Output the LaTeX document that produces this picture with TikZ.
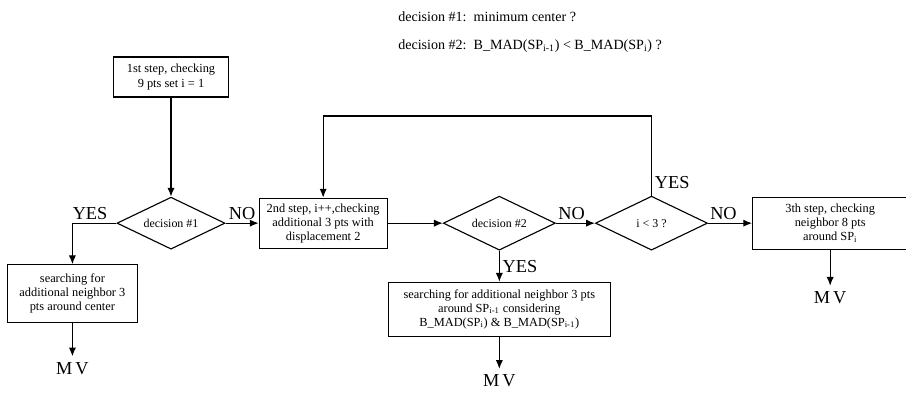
\documentclass[tikz,border=0pt]{standalone}
\usepackage{fontspec}
\setmainfont{Liberation Serif}
\usetikzlibrary{arrows.meta,positioning,shapes.geometric}

\begin{document}
\begin{tikzpicture}[x=0.025cm, y=-0.025cm,
  node distance=8mm and 9mm,
  box/.style={draw, align=center, inner sep=1pt, line width=0.8pt, font=\fontsize{8.8}{10}\selectfont},
  decision/.style={draw, diamond, aspect=2, inner sep=0pt, minimum width=28mm, minimum height=13.5mm, line width=0.8pt, font=\fontsize{8.5}{10}\selectfont},
  answer/.style={inner sep=2pt, font=\fontsize{13}{13}\selectfont},
  result/.style={inner sep=4pt, font=\fontsize{13}{13}\selectfont},
  note/.style={anchor=west, inner sep=0pt, font=\fontsize{10}{12}\selectfont},
  link/.style={-{Latex[length=2.2mm, width=1.8mm]}, line width=0.8pt}
]
\useasboundingbox (0,0) rectangle (906,394);
% legend
\node[note] (hdr1) at (398,17) {decision \#1:\ \ minimum center ?};
\node[note] (hdr2) at (398,46) {decision \#2:\ \ B\_MAD(SP\textsubscript{i-1}) < B\_MAD(SP\textsubscript{i}) ?};
% main row
\node[box, minimum width=28.75mm, minimum height=10mm] (step1) at (171,77) {1st step, checking\\9 pts set i = 1};
\node[decision, below=24.75mm of step1, minimum width=27mm, minimum height=13mm] (dec1) {decision \#1};
\node[box, right=8.25mm of dec1, minimum width=32mm, minimum height=12.5mm] (step2) {2nd step, i++,checking\\additional 3 pts with\\displacement 2};
\node[decision, right=13.75mm of step2] (dec2) {decision \#2};
\node[decision, right=9.75mm of dec2] (dec3) {i < 3 ?};
\node[box, right=11mm of dec3, minimum width=38.75mm, minimum height=13mm] (step3) {3th step, checking\\neighbor 8 pts\\around SP\textsubscript{i}};
% branches
\node[box, below=10.25mm of dec1.west, xshift=-11mm, minimum width=32.5mm, minimum height=14.5mm] (near) {searching for\\additional neighbor 3\\pts around center};
\node[box, below=7.75mm of dec2, minimum width=55.5mm, minimum height=13.5mm] (step4) {searching for additional neighbor 3 pts\\around SP\textsubscript{i-1} considering\\B\_MAD(SP\textsubscript{i}) \& B\_MAD(SP\textsubscript{i-1})};
\node[result, below=8.25mm of near] (mv1) {M\,V};
\node[result, below=8mm of step4] (mv2) {M\,V};
\node[result, below=9mm of step3] (mv3) {M\,V};
\coordinate (looptop) at (0,116);
% connectors
\draw[link] (step1) -- (dec1);
\draw[link] (dec1.west) -| node[answer, above, pos=0.3] {YES} (near.north);
\draw[link] (dec1.east) -- node[answer, above] {NO} (step2.west);
\draw[link] (step2.east) -- (dec2.west);
\draw[link] (dec2.east) -- node[answer, above, pos=0.4] {NO} (dec3.west);
\draw[link] (dec2.south) -- node[answer, right] {YES} (step4.north);
\draw[link] (dec3.east) -- node[answer, above, pos=0.35] {NO} (step3.west);
\draw[link] (dec3.north) |- node[answer, right, pos=0.08] {YES} (looptop -| step2.north) -- (step2.north);
\draw[link] (near) -- (mv1);
\draw[link] (step4) -- (mv2);
\draw[link] (step3) -- (mv3);
\end{tikzpicture}
\end{document}
